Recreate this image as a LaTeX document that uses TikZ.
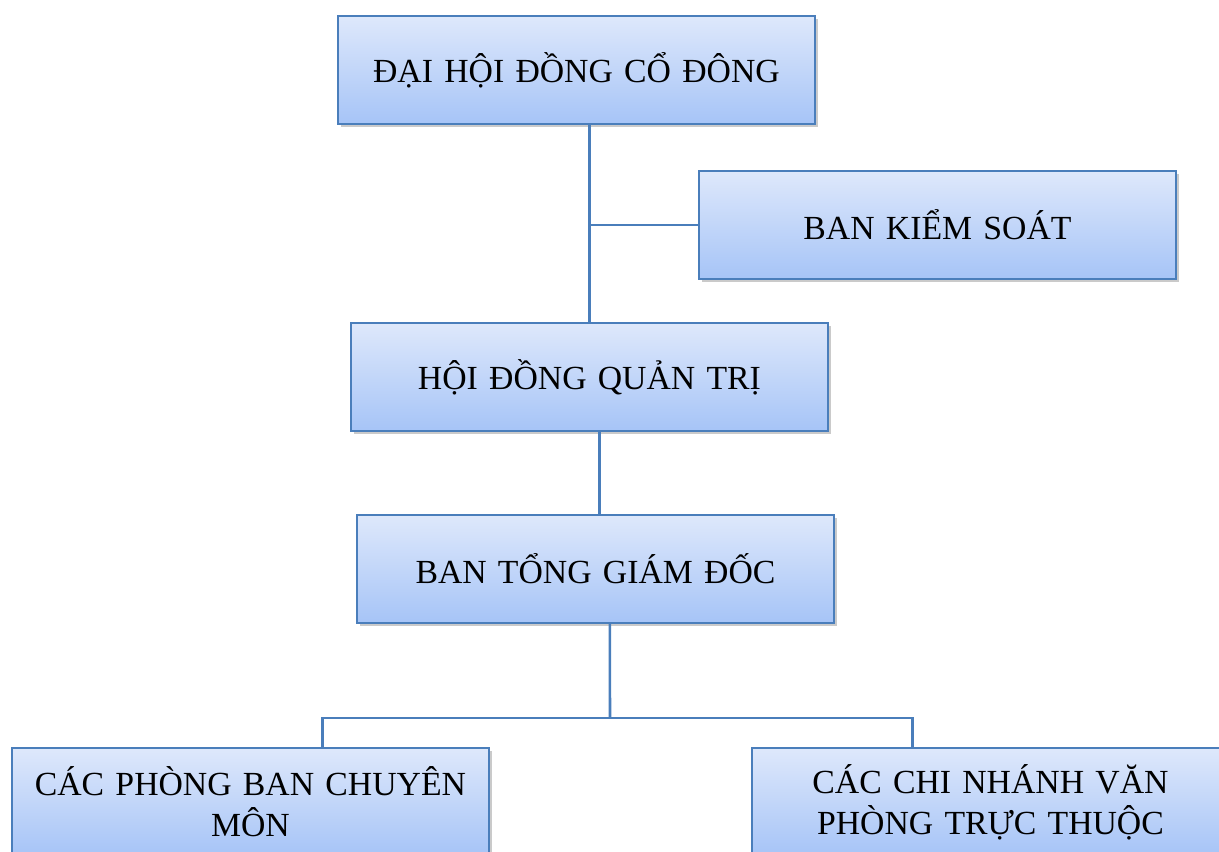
\documentclass[tikz,border=0pt]{standalone}
\usepackage{fontspec}
\setmainfont{Liberation Serif}
\usetikzlibrary{shadows}
\definecolor{boxline}{HTML}{4A7EBB}
\definecolor{boxtop}{HTML}{DEE8FB}
\definecolor{boxbot}{HTML}{A6C4F7}
\tikzset{
  org/.style={draw=boxline, line width=1.3pt, top color=boxtop, bottom color=boxbot,
    minimum width=11.925cm, minimum height=2.7cm, inner sep=0pt, text width=11.4cm,
    align=center, font=\fontsize{24}{29}\selectfont,
    drop shadow={shadow xshift=2pt, shadow yshift=-2pt, opacity=0.35, fill=black!60}},
  link/.style={boxline, line width=1.8pt}
}
\begin{document}
\begin{tikzpicture}[x=0.025cm,y=-0.025cm]
\clip (0,0) rectangle (1219,852);
\useasboundingbox (0,0) rectangle (1219,852);
 \node[org](dhdcd) at (576.5,70){ĐẠI HỘI ĐỒNG CỔ ĐÔNG};
 \node[org](bks) at (937.5,225){BAN KIỂM SOÁT};
 \node[org](hdqt) at (589.5,377){HỘI ĐỒNG QUẢN TRỊ};
 \node[org](btgd) at (595.5,569){BAN TỔNG GIÁM ĐỐC};
 \node[org](pb) at (250.5,802){CÁC PHÒNG BAN CHUYÊN\\MÔN};
 \node[org](cn) at (990.5,802){CÁC CHI NHÁNH VĂN\\PHÒNG TRỰC THUỘC};

 \coordinate (split) at (610,718);
% \draw [link] (dhdcd) -- (hdqt);
 \draw [link] (hdqt.north) -- (hdqt.north |- dhdcd.south);
 \draw [link] (bks.west) -- (bks.west -| hdqt.north);
 \draw [link] ([xshift=0.25cm]hdqt.south) -- ([xshift=0.1cm]btgd.north);
 \draw [link] ([xshift=0.36cm]btgd.south) -- (split);
 \draw [link] ([xshift=1.8cm]pb.north) |- (split) -| ([xshift=-1.95cm]cn.north);
\end{tikzpicture}
\end{document}
